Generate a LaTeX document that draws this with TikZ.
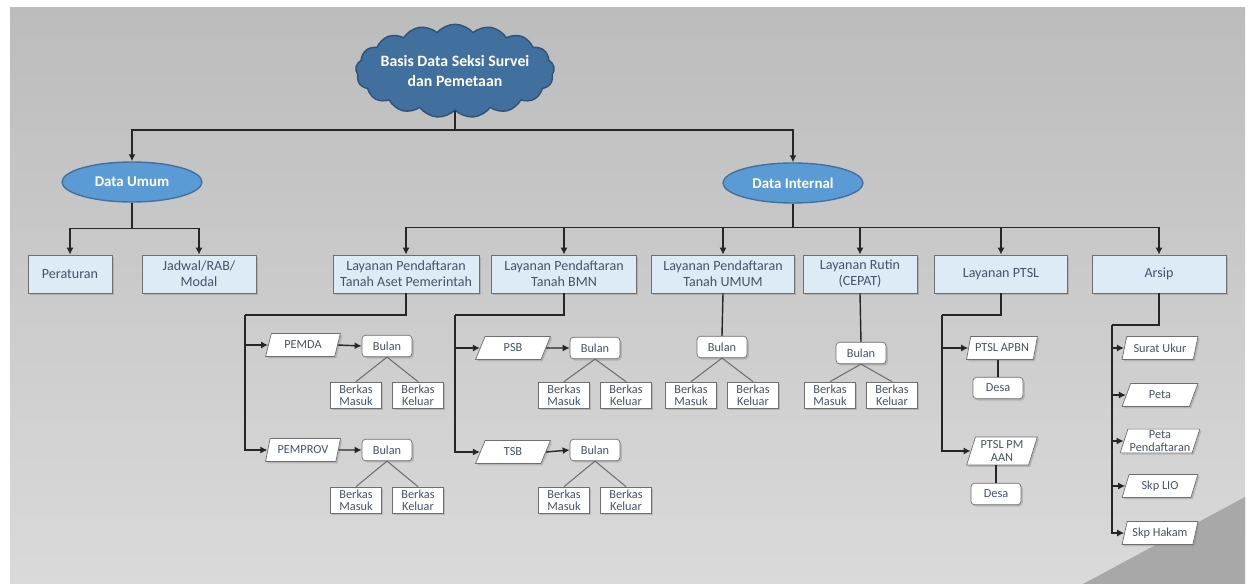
\documentclass[tikz,border=0pt]{standalone}
\usepackage{fontspec}
\setmainfont{Carlito}
\usetikzlibrary{shapes.geometric,shapes.symbols,arrows.meta,shadows}
\definecolor{cloudblue}{HTML}{41709F}
\definecolor{cloudedge}{HTML}{2F5378}
\definecolor{ovalblue}{HTML}{5B9BD5}
\definecolor{ovaledge}{HTML}{41719C}
\definecolor{boxblue}{HTML}{DDEBF7}
\definecolor{boxedge}{HTML}{6F6F6F}
\definecolor{boxtext}{HTML}{44546A}
\definecolor{linedark}{HTML}{262626}
\definecolor{bgtop}{HTML}{BCBCBC}
\definecolor{bgbot}{HTML}{DADADA}
\definecolor{curl}{HTML}{A8A8A8}

\tikzset{
  shade box/.style={drop shadow={shadow xshift=1pt,shadow yshift=-1pt,opacity=0.35}},
  basis/.style={cloud,cloud puffs=17,cloud puff arc=100,aspect=2.5,draw=cloudedge,
    fill=cloudblue,thick,text=white,font=\fontsize{9}{11}\selectfont\bfseries,
    align=center,inner xsep=-3pt,inner ysep=-1pt},
  kategori/.style={ellipse,draw=ovaledge,fill=ovalblue,thick,text=white,
    font=\fontsize{8.5}{9}\selectfont\bfseries,minimum width=2.8cm,minimum height=0.8cm},
  layanan/.style={rectangle,draw=boxedge,fill=boxblue,text=boxtext,shade box,
    font=\fontsize{8}{9}\selectfont,align=center,minimum height=0.76cm,inner sep=1pt},
  jenis/.style={trapezium,trapezium left angle=72,trapezium right angle=108,
    trapezium stretches=true,draw=boxedge,fill=white,text=boxtext,shade box,
    font=\fontsize{7}{7}\selectfont,align=center,minimum width=1.5cm,
    minimum height=0.46cm,inner sep=1pt},
  periode/.style={rectangle,rounded corners=2pt,draw=boxedge,fill=white,text=boxtext,
    shade box,font=\fontsize{7}{8}\selectfont,minimum width=1cm,minimum height=0.43cm},
  berkas/.style={rectangle,draw=boxedge,fill=white,text=boxtext,shade box,
    font=\fontsize{7}{6.8}\selectfont,align=center,minimum width=1.02cm,
    minimum height=0.52cm,inner sep=0.5pt},
  arr/.style={draw=linedark,line width=0.8pt,-{Latex[length=4pt,width=4pt]}},
  link/.style={draw=linedark,line width=0.8pt},
  cabang/.style={draw=boxedge,line width=0.6pt}
}

\begin{document}
\begin{tikzpicture}[x=0.02cm,y=-0.02cm]
\useasboundingbox (0,0) rectangle (1252,584);
% background
\fill[white] (0,0) rectangle (1252,584);
\shade[top color=bgtop,bottom color=bgbot] (10,8) rectangle (1245,584);
\fill[curl] (1083,584) -- (1245,497) -- (1245,584) -- cycle;

% top
\node[basis] (basis) at (455,71) {Basis Data Seksi Survei\\dan Pemetaan};
\node[kategori] (umum) at (132,182) {Data Umum};
\node[kategori] (internal) at (793,183) {Data Internal};
\draw[arr] (basis.south) |- (132,130) -- (umum.north);
\draw[arr] (basis.south) |- (793,130) -- (internal.north);

% data umum
\node[layanan,minimum width=1.68cm] (aturan) at (70,274) {Peraturan};
\node[layanan,minimum width=2.28cm] (jadwal) at (199,274) {Jadwal/RAB/\\Modal};
\foreach \n in {aturan,jadwal}
  \draw[arr] (umum.south) -- ++(0,26) -| (\n.north);

% data internal
\foreach \nm/\x/\w/\txt in {aset/406/2.92/{Layanan Pendaftaran\\Tanah Aset Pemerintah},
    bmn/564/2.9/{Layanan Pendaftaran\\Tanah BMN},
    umumreg/723/2.86/{Layanan Pendaftaran\\Tanah UMUM},
    rutin/860/2.28/{Layanan Rutin\\(CEPAT)},
    ptsl/1001/2.66/{Layanan PTSL},
    arsip/1159/2.68/{Arsip}}
  \node[layanan,minimum width=\w cm] (\nm) at (\x,274) {\txt};
\foreach \n in {aset,bmn,umumreg,rutin,ptsl,arsip}
  \draw[arr] (internal.south) -- ++(0,24) -| (\n.north);

% jenis
\node[jenis] (pemda) at (303,345) {PEMDA};
\node[jenis] (pemprov) at (303,450) {PEMPROV};
\node[jenis] (psb) at (513,348) {PSB};
\node[jenis] (tsb) at (513,452) {TSB};
\node[jenis,minimum width=1.42cm] (ptsla) at (1002,348) {PTSL APBN};
\node[jenis,minimum width=1.42cm,minimum height=0.56cm] (ptslb) at (1002,451) {PTSL PM\\AAN};

\coordinate (ja) at (245,315);
\coordinate (jb) at (455,315);
\coordinate (je) at (942,315);
\coordinate (jf) at (1112,325);
\draw[link] (aset.south) |- (ja);
\draw[link] (bmn.south) |- (jb);
\draw[link] (ptsl.south) |- (je);
\draw[link] (arsip.south) |- (jf);
\draw[arr] (ja) |- (pemda.west);
\draw[arr] (ja) |- (pemprov.west);
\draw[arr] (jb) |- (psb.west);
\draw[arr] (jb) |- (tsb.west);
\draw[arr] (je) |- (ptsla.west);
\draw[arr] (je) |- (ptslb.west);

% bulan dan berkas
\foreach \i/\x/\y/\by in {A/387/346/395,B/387/450/500,C/595/348/395,
    D/595/450/500,E/722/347/395,F/861/353/395}{
  \node[periode] (bulan\i) at (\x,\y) {Bulan};
  \node[berkas] (masuk\i) at (\x-31,\by) {Berkas\\Masuk};
  \node[berkas] (keluar\i) at (\x+31,\by) {Berkas\\Keluar};
  \draw[cabang] (bulan\i.south) -- (masuk\i.north);
  \draw[cabang] (bulan\i.south) -- (keluar\i.north);
}
\draw[arr] (pemda.east) -- (bulanA.west);
\draw[arr] (pemprov.east) -- (bulanB.west);
\draw[arr] (psb.east) -- (bulanC.west);
\draw[arr] (tsb.east) -- (bulanD.west);
\draw[link] (umumreg.south) -- (bulanE.north);
\draw[link] (rutin.south) -- (bulanF.north);

% desa
\node[periode] (desaA) at (998,388) {Desa};
\node[periode] (desaB) at (996,494) {Desa};
\draw[link] (desaA.north |- ptsla.south) -- (desaA.north);
\draw[link] (desaB.north |- ptslb.south) -- (desaB.north);

% arsip
\foreach \i/\y/\txt in {1/348/{Surat Ukur},2/395/{Peta},3/441/{Peta\\Pendaftaran},
    4/486/{Skp LIO},5/533/{Skp Hakam}}{
  \node[jenis,minimum width=1.52cm] (arsip\i) at (1160,\y) {\txt};
  \draw[arr] (jf) |- (arsip\i.west);
}
\end{tikzpicture}
\end{document}
